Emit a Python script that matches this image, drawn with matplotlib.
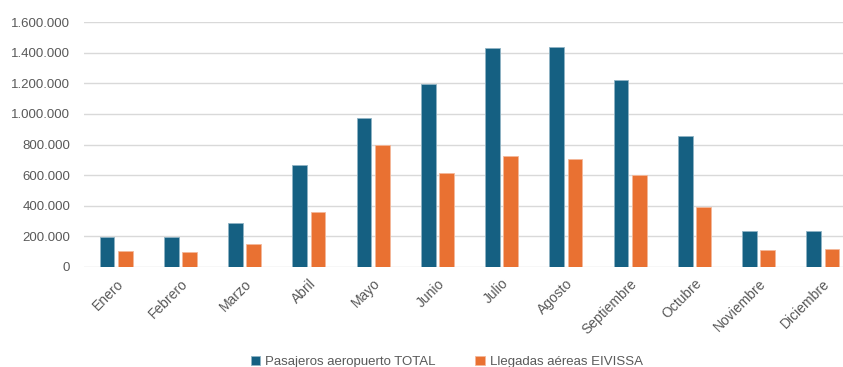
import matplotlib
matplotlib.use('Agg')
import matplotlib.pyplot as plt
import numpy as np
from matplotlib.ticker import FuncFormatter

plt.rcParams['font.family'] = ['Liberation Sans', 'DejaVu Sans']

# Pasajeros mensuales
meses = ['Enero', 'Febrero', 'Marzo', 'Abril', 'Mayo', 'Junio', 'Julio',
         'Agosto', 'Septiembre', 'Octubre', 'Noviembre', 'Diciembre']
pasajeros_total = [196000, 196000, 286000, 664000, 971000, 1194000, 1430000,
                   1436000, 1220000, 854000, 234000, 234000]
llegadas_eivissa = [100000, 94000, 150000, 356000, 797000, 611000, 727000,
                    707000, 598000, 389000, 107000, 114000]

AZUL = '#156082'
NARANJA = '#E97132'
GRIS = '#595959'

fig = plt.figure(figsize=(8.43, 3.67), dpi=100)
ax = fig.add_axes([84 / 843, 1 - 266.7 / 367, (855 - 84) / 843, (266.7 - 22.3) / 367])

x = np.arange(len(meses))
ancho = 0.23
off = 0.1415
ax.bar(x - off, pasajeros_total, ancho, color=AZUL, edgecolor='#8fb3c4',
       linewidth=0.6, label='Pasajeros aeropuerto TOTAL', zorder=3)
ax.bar(x + off, llegadas_eivissa, ancho, color=NARANJA, edgecolor='#f4b89a',
       linewidth=0.6, label='Llegadas aéreas EIVISSA', zorder=3)

ax.set_xlim(-0.5, len(meses) - 0.5)
ax.set_ylim(0, 1600000)
ax.set_yticks(np.arange(0, 1600001, 200000))
ax.yaxis.set_major_formatter(FuncFormatter(lambda v, p: f'{int(v):,}'.replace(',', '.')))
ax.grid(axis='y', color='#D9D9D9', linewidth=1, zorder=0)
ax.set_axisbelow(True)
for s in ax.spines.values():
    s.set_visible(False)

ax.tick_params(axis='y', length=0, pad=10, labelsize=9.5, labelcolor=GRIS)
ax.tick_params(axis='x', length=0, pad=7, labelsize=10, labelcolor=GRIS)
ax.set_xticks(x)
ax.set_xticklabels(meses, rotation=45, ha='right', rotation_mode='anchor')

leg = fig.legend(loc='lower center', bbox_to_anchor=(0.53, -0.035), ncol=2,
                 frameon=False, handlelength=0.7, handleheight=0.7,
                 handletextpad=0.4, columnspacing=3.0,
                 prop={'family': ['Liberation Sans Narrow', 'Liberation Sans'], 'size': 9.5})
for t in leg.get_texts():
    t.set_color(GRIS)

fig.savefig('out.png', dpi=100)
